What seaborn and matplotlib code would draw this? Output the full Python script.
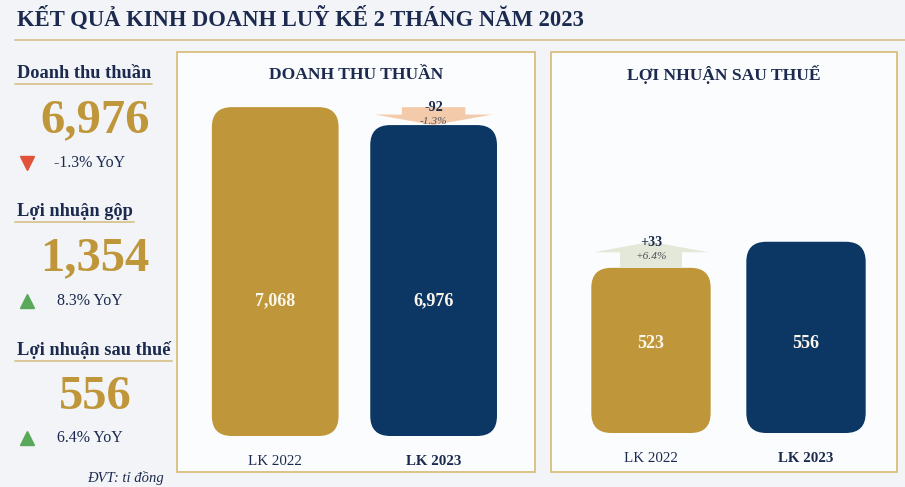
import matplotlib
matplotlib.use("Agg")
import matplotlib.pyplot as plt
import matplotlib.transforms as mtransforms
from matplotlib.patches import FancyBboxPatch, Rectangle, Polygon
from matplotlib.lines import Line2D
import seaborn as sns

# ---- data ----
categories = ["LK 2022", "LK 2023"]
revenue = [7068, 6976]
net_profit = [523, 556]

kpi_names = ["Doanh thu thuần", "Lợi nhuận gộp", "Lợi nhuận sau thuế"]
kpi_values = [6976, 1354, 556]
kpi_yoy = [-1.3, 8.3, 6.4]

title = "KẾT QUẢ KINH DOANH LUỸ KẾ 2 THÁNG NĂM 2023"
unit_note = "ĐVT: tỉ đồng"

GOLD = "#bf973a"
NAVY = "#0c3764"
INK = "#1b2a4e"
LINE_GOLD = "#d8c48f"

sns.set_theme(style="white")
SERIF = ["Liberation Serif", "DejaVu Serif"]
plt.rcParams["font.family"] = SERIF

W, H = 905, 487
fig = plt.figure(figsize=(W / 100, H / 100), dpi=100)
fig.patch.set_facecolor("#f2f4f7")


def fx(px):
    return px / W


def fy(py):
    return 1 - py / H


def ftext(x, y, s, **kw):
    fig.text(fx(x), fy(y), s, **kw)


def hline(x0, x1, y, color=LINE_GOLD, lw=1.5):
    fig.add_artist(Line2D([fx(x0), fx(x1)], [fy(y), fy(y)], color=color, lw=lw,
                          transform=fig.transFigure))


# ---- header ----
ftext(17, 19, title, fontsize=16.3, fontweight="bold", color=INK, va="center", ha="left")
hline(15, 905, 40, lw=1.3)

# ---- left KPI column ----
kpi_rows = [73, 211, 350]
for i, (name, val, yoy) in enumerate(zip(kpi_names, kpi_values, kpi_yoy)):
    y0 = kpi_rows[i]
    ftext(17, y0, name, fontsize=13.2, fontweight="bold", color=INK, va="center", ha="left")
    hline(15, 17 + [135, 117, 155][i], y0 + 11, lw=1.3)
    ftext(95, y0 + 47, f"{val:,}", fontsize=35, fontweight="bold", color=GOLD,
          va="center", ha="center")
    up = yoy >= 0
    marker = "^" if up else "v"
    mcol = "#5aa85a" if up else "#e0533a"
    ty = y0 + (90 if i < 2 else 88)
    fig.add_artist(Line2D([fx(27)], [fy(ty)], marker=marker, color=mcol, markersize=10,
                          linestyle="none", transform=fig.transFigure))
    ftext(90, ty, f"{yoy:.1f}% YoY", fontsize=11.5, color=INK, va="center", ha="center")
ftext(164, 478, unit_note, fontsize=10.5, style="italic", color=INK, va="center", ha="right")


# ---- bar panels ----
def panel(box, axbox, label, values, ylim, bar_w, pct, text_frac, xlim):
    x0, y0, x1, y1 = box
    fig.add_artist(Rectangle((fx(x0), fy(y1)), fx(x1) - fx(x0), fy(y0) - fy(y1),
                             transform=fig.transFigure, fc="#fbfcfd", ec="#d9bf7d",
                             lw=1.3, zorder=-1))
    ftext((x0 + x1) / 2, 75, label, fontsize=12.6, fontweight="bold", color=INK,
          va="center", ha="center")

    ax0, ay0, ax1_, ay1 = axbox
    ax = fig.add_axes([fx(ax0), fy(ay1), fx(ax1_) - fx(ax0), fy(ay0) - fy(ay1)])
    ax.patch.set_alpha(0)
    sns.barplot(x=categories, y=values, hue=categories, palette=[GOLD, NAVY],
                saturation=1, legend=False, width=bar_w, ax=ax)
    ax.set_ylim(*ylim)
    ax.set_xlim(*xlim)
    sns.despine(ax=ax, left=True, bottom=True)
    ax.set_yticks([])
    ax.set_ylabel("")
    ax.tick_params(axis="x", length=0, pad=14, labelsize=10.8, labelcolor=INK)
    for i, t in enumerate(ax.get_xticklabels()):
        t.set_fontweight("bold" if i == 1 else "normal")

    # pixel scale of the axes, used to keep the corner rounding circular
    px_w = fx(ax1_) - fx(ax0)
    px_h = fy(ay0) - fy(ay1)
    ppx = px_w * W / (xlim[1] - xlim[0])
    ppy = px_h * H / (ylim[1] - ylim[0])
    r = 20 / ppx
    base = ylim[0]
    for p in list(ax.patches):
        bx, bw, bh = p.get_x(), p.get_width(), p.get_height()
        col = p.get_facecolor()
        p.remove()
        ax.add_patch(FancyBboxPatch((bx, base), bw, bh - base,
                                    boxstyle=f"round,pad=0,rounding_size={r}",
                                    mutation_aspect=ppx / ppy, fc=col, ec="none"))

    trans = mtransforms.blended_transform_factory(ax.transData, ax.transAxes)
    for i, v in enumerate(values):
        ax.text(i, text_frac, f"{v:,}", transform=trans, ha="center", va="center",
                color="#fbf6ea", fontsize=13, fontweight="bold")

    # change arrow between the two values
    diff = values[1] - values[0]
    hi, lo = max(values), min(values)
    head = 10.5 / ppy
    hw, sw = 0.37, 0.2
    if diff < 0:
        xc = 1
        pts = [(xc - sw, hi), (xc + sw, hi), (xc + sw, lo + head), (xc + hw, lo + head),
               (xc, lo), (xc - hw, lo + head), (xc - sw, lo + head)]
        acol = "#f3cbaa"
    else:
        xc = 0
        pts = [(xc - sw, lo), (xc + sw, lo), (xc + sw, hi - head), (xc + hw, hi - head),
               (xc, hi), (xc - hw, hi - head), (xc - sw, hi - head)]
        acol = "#e4e8d8"
    ax.add_patch(Polygon(pts, closed=True, fc=acol, ec="none", zorder=1))
    ax.annotate(f"{diff:+d}", (xc, hi), xytext=(0, -0.5), textcoords="offset points",
                ha="center", va="center", fontsize=10.2, fontweight="bold", color=INK)
    ax.annotate(f"{pct:+.1f}%", (xc, hi), xytext=(0, -10.5), textcoords="offset points",
                ha="center", va="center", fontsize=8.2, style="italic", color="#4a4f5c")
    return ax


panel((177, 52, 535, 472), (177, 60, 535, 436), "DOANH THU THUẦN", revenue,
      (5380, 7310), 0.8, kpi_yoy[0], 0.359, (-0.62, 1.64))
panel((551, 52, 897, 472), (551, 60, 897, 433), "LỢI NHUẬN SAU THUẾ", net_profit,
      (314, 786), 0.77, kpi_yoy[2], 0.24, (-0.645, 1.587))

fig.savefig("out.png", dpi=100, facecolor=fig.get_facecolor())
